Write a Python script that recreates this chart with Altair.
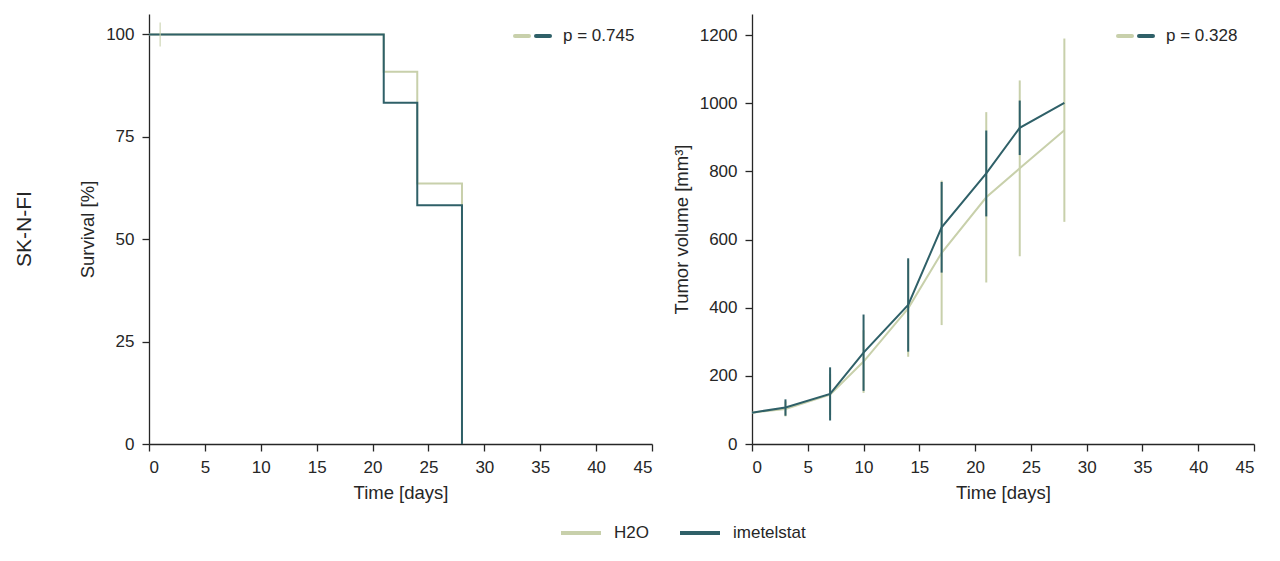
import altair as alt
import pandas as pd

FONT = "Liberation Sans"
TXT = "#262626"
GROUPS = ["H2O", "imetelstat"]
COLORS = ["#c8d0ab", "#2f6068"]

# Survival (Kaplan-Meier) steps
surv_days_h2o = [0, 21, 24, 28]
surv_pct_h2o = [100, 90.9, 63.6, 0]
surv_days_ime = [0, 21, 24, 28]
surv_pct_ime = [100, 83.3, 58.3, 0]
censor_days_h2o = [1]
censor_pct_h2o = [100]
p_surv = "p = 0.745"

# Tumor volume
tv_days = [0, 3, 7, 10, 14, 17, 21, 24, 28]
tv_mean_h2o = [92, 103, 145, 242, 398, 561, 724, 809, 921]
tv_err_h2o = [0, 22, 60, 92, 142, 212, 250, 258, 269]
tv_mean_ime = [92, 107, 147, 268, 408, 636, 794, 928, 1001]
tv_err_ime = [0, 24, 78, 112, 137, 133, 126, 80, 0]
p_tv = "p = 0.328"

x_ticks = [0, 5, 10, 15, 20, 25, 30, 35, 40, 45]
surv_ticks = [0, 25, 50, 75, 100]
tv_ticks = [0, 200, 400, 600, 800, 1000, 1200]

surv = pd.concat([
    pd.DataFrame({"day": surv_days_h2o, "pct": surv_pct_h2o, "group": "H2O"}),
    pd.DataFrame({"day": surv_days_ime, "pct": surv_pct_ime, "group": "imetelstat"}),
])
cens = pd.DataFrame({"day": censor_days_h2o, "pct": censor_pct_h2o, "group": "H2O"})

tv = pd.concat([
    pd.DataFrame({"day": tv_days, "mean": tv_mean_h2o, "err": tv_err_h2o, "group": "H2O"}),
    pd.DataFrame({"day": tv_days, "mean": tv_mean_ime, "err": tv_err_ime, "group": "imetelstat"}),
])
tv["lo"] = tv["mean"] - tv["err"]
tv["hi"] = tv["mean"] + tv["err"]

color_scale = alt.Scale(domain=GROUPS, range=COLORS)
W, H = 503, 430

xenc = alt.X("day:Q", title="Time [days]",
             scale=alt.Scale(domain=[0, 45], nice=False),
             axis=alt.Axis(values=x_ticks, format="d"))


def p_legend(text):
    one = pd.DataFrame({"k": [0]})
    base = alt.Chart(one)
    seg1 = base.mark_rule(strokeWidth=4, strokeCap="round", color=COLORS[0]).encode(
        x=alt.value(366), x2=alt.value(380), y=alt.value(22))
    seg2 = base.mark_rule(strokeWidth=4, strokeCap="round", color=COLORS[1]).encode(
        x=alt.value(387), x2=alt.value(401), y=alt.value(22))
    txt = base.mark_text(align="left", baseline="middle", fontSize=17, font=FONT,
                         color=TXT).encode(x=alt.value(414), y=alt.value(22),
                                           text=alt.value(text))
    return [seg1, seg2, txt]


surv_y = alt.Y("pct:Q", title="Survival [%]",
               scale=alt.Scale(domain=[0, 105], nice=False),
               axis=alt.Axis(values=surv_ticks, format="d"))

surv_lines = alt.Chart(surv).mark_line(interpolate="step-after", strokeWidth=2).encode(
    x=xenc, y=surv_y,
    color=alt.Color("group:N", scale=color_scale, title=None,
                    legend=alt.Legend(orient="none", direction="horizontal",
                                      legendX=410, legendY=497,
                                      symbolType="stroke", symbolSize=1600,
                                      symbolStrokeWidth=4, labelFontSize=17,
                                      labelFont=FONT, labelColor=TXT,
                                      labelOffset=11, columnPadding=23)),
    order=alt.Order("day:Q"),
)
surv_cens = alt.Chart(cens).mark_tick(orient="vertical", size=24, thickness=1.5).encode(
    x="day:Q", y="pct:Q",
    color=alt.Color("group:N", scale=color_scale, legend=None),
)
left = alt.layer(surv_lines, surv_cens, *p_legend(p_surv)).properties(width=W, height=H)

tv_y = alt.Y("mean:Q", title="Tumor volume [mm³]",
             scale=alt.Scale(domain=[0, 1262], nice=False),
             axis=alt.Axis(values=tv_ticks, format="d"))

tv_err_h = alt.Chart(tv[tv.group == "H2O"]).mark_rule(strokeWidth=2).encode(
    x="day:Q", y="lo:Q", y2="hi:Q",
    color=alt.Color("group:N", scale=color_scale, legend=None))
tv_line_h = alt.Chart(tv[tv.group == "H2O"]).mark_line(strokeWidth=2).encode(
    x=xenc, y=tv_y, color=alt.Color("group:N", scale=color_scale, legend=None))
tv_err_i = alt.Chart(tv[tv.group == "imetelstat"]).mark_rule(strokeWidth=2).encode(
    x="day:Q", y="lo:Q", y2="hi:Q",
    color=alt.Color("group:N", scale=color_scale, legend=None))
tv_line_i = alt.Chart(tv[tv.group == "imetelstat"]).mark_line(strokeWidth=2).encode(
    x=xenc, y=tv_y, color=alt.Color("group:N", scale=color_scale, legend=None))

right = alt.layer(tv_err_h, tv_line_h, tv_err_i, tv_line_i, *p_legend(p_tv)).properties(
    width=W - 1, height=H)

chart = alt.hconcat(left, right, spacing=100, bounds="flush").properties(
    background="white",
    padding={"top": 6, "left": 5, "right": 5, "bottom": 5},
    title=alt.TitleParams("SK-N-FI", orient="left", anchor="middle", fontSize=21,
                          font=FONT, fontWeight="normal", color=TXT, offset=44,
                          frame="group"),
).configure_view(stroke=None).configure_axis(
    grid=False, domainColor=TXT, tickColor=TXT, domainWidth=1.3, tickWidth=1.3,
    tickSize=7, labelFontSize=17, labelFont=FONT, labelColor=TXT, labelPadding=8,
    titleFontSize=18.5, titleFont=FONT, titleColor=TXT, titleFontWeight="normal",
    titlePadding=8,
)

chart.save("out.html", embed_options={"renderer": "svg", "actions": False})
